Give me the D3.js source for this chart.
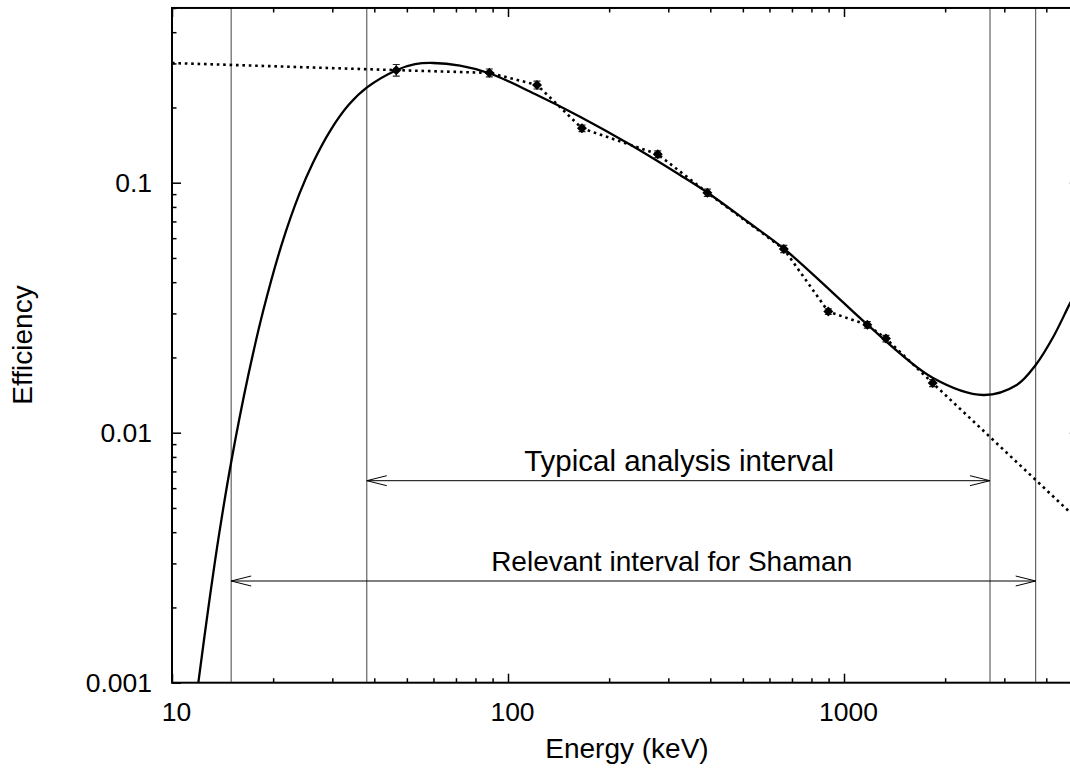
<!DOCTYPE html>
<html>
<head>
<meta charset="utf-8">
<script src="https://cdn.jsdelivr.net/npm/d3@7"></script>
<style>
  body { margin: 0; background: #fff; }
  svg { display: block; font-family: "Liberation Sans", Arial, sans-serif; }
  .tick text { font-size: 26.5px; fill: #000; }
  .tick line { stroke: #000; stroke-width: 1.5; }
</style>
</head>
<body>
<svg id="chart" width="1070" height="772"></svg>
<script>
// measured calibration points (energy in keV, efficiency)
const pointEnergy = [46.5, 88, 122, 166, 279, 392, 662, 898, 1173, 1333, 1836];
const pointEff = [0.282, 0.275, 0.246, 0.165, 0.130, 0.0912, 0.0543, 0.0305, 0.0270, 0.0238, 0.0158];
const pointErr = [0.015, 0.010, 0.009, 0.005, 0.004, 0.003, 0.0018, 0.0008, 0.0008, 0.0007, 0.0005];

// dotted line runs through the points, ends
const dottedStart = [10, 0.301];
const dottedEnd = [5000, 0.00445];

// fitted efficiency curve (solid)
const fitEnergy = [11.58, 11.97, 12.77, 13.73, 14.98, 16.87, 18.69, 21.21, 23.92, 26.34, 29.53, 33.57, 38.14, 46.73, 52.88, 59.83, 71.97, 88.4, 120.3, 163.8, 230.7, 325, 393, 513, 664, 908, 1176, 1841, 2598, 3266, 3720, 4198, 4706, 5000];
const fitEff = [0.00071, 0.000994, 0.001904, 0.003733, 0.00755, 0.0170, 0.0308, 0.05665, 0.08995, 0.1210, 0.1609, 0.2048, 0.2410, 0.2824, 0.2979, 0.3012, 0.2938, 0.2734, 0.2263, 0.1837, 0.1422, 0.1074, 0.0912, 0.0703, 0.0543, 0.0372, 0.0270, 0.01655, 0.01415, 0.01552, 0.01866, 0.0242, 0.0329, 0.0382];

// intervals: [low, high] in keV
const intervalNames = ["Typical analysis interval", "Relevant interval for Shaman"];
const intervalLow = [38, 15];
const intervalHigh = [2720, 3720];
const intervalLabelAt = [323, 307];

// ticks
const xMajor = [10, 100, 1000];
const xMinor = [20, 30, 40, 50, 60, 70, 80, 90, 200, 300, 400, 500, 600, 700, 800, 900, 2000, 3000, 4000, 5000];
const yMajor = [0.001, 0.01, 0.1];
const yMinor = [0.002, 0.003, 0.004, 0.005, 0.006, 0.007, 0.008, 0.009, 0.02, 0.03, 0.04, 0.05, 0.06, 0.07, 0.08, 0.09, 0.2, 0.3, 0.4, 0.5];

const svg = d3.select("#chart");
const plotLeft = 172, plotBottom = 682.7, decadeX = 336, decadeY = 250;
const plotRight = plotLeft + decadeX * Math.log10(500);
const plotTop = plotBottom - decadeY * Math.log10(500);

const x = d3.scaleLog().domain([10, 5000]).range([plotLeft, plotRight]);
const y = d3.scaleLog().domain([0.001, 0.5]).range([plotBottom, plotTop]);

svg.append("defs").append("clipPath").attr("id", "clip")
  .append("rect").attr("x", plotLeft).attr("y", plotTop)
  .attr("width", plotRight - plotLeft).attr("height", plotBottom - plotTop);

const plot = svg.append("g").attr("clip-path", "url(#clip)");

//vertical interval lines
const bounds = intervalLow.concat(intervalHigh);
plot.selectAll(".vline").data(bounds).enter().append("line")
  .attr("class", "vline")
  .attr("x1", d => x(d)).attr("x2", d => x(d))
  .attr("y1", plotTop).attr("y2", plotBottom)
  .attr("stroke", "#444").attr("stroke-width", 1);

//double arrows with labels
const arrowY = [480.7, 581];
const labelY = [471, 570.5];
const labelSize = [29.5, 28];
intervalNames.forEach((name, i) => {
  const x0 = x(intervalLow[i]), x1 = x(intervalHigh[i]), yy = arrowY[i];
  plot.append("line").attr("x1", x0).attr("x2", x1).attr("y1", yy).attr("y2", yy)
    .attr("stroke", "#000").attr("stroke-width", 1);
  plot.append("path")
    .attr("d", `M${x0 + 20},${yy - 5}L${x0},${yy}L${x0 + 20},${yy + 5}M${x1 - 20},${yy - 5}L${x1},${yy}L${x1 - 20},${yy + 5}`)
    .attr("fill", "none").attr("stroke", "#000").attr("stroke-width", 1);
  svg.append("text").attr("x", x(intervalLabelAt[i])).attr("y", labelY[i])
    .attr("text-anchor", "middle").attr("font-size", labelSize[i]).text(name);
});

//dotted line through points
const dottedData = [dottedStart].concat(pointEnergy.map((e, i) => [e, pointEff[i]]), [dottedEnd]);
plot.append("path")
  .datum(dottedData)
  .attr("d", d3.line().x(d => x(d[0])).y(d => y(d[1])))
  .attr("fill", "none").attr("stroke", "#000").attr("stroke-width", 2.6)
  .attr("stroke-dasharray", "2.6,3.8");

//fit curve
plot.append("path")
  .datum(fitEnergy.map((e, i) => [e, fitEff[i]]))
  .attr("d", d3.line().x(d => x(d[0])).y(d => y(d[1])).curve(d3.curveCatmullRom.alpha(0.5)))
  .attr("fill", "none").attr("stroke", "#000").attr("stroke-width", 2.3);

//error bars and points
const pts = plot.selectAll(".pt").data(pointEnergy.map((e, i) => ({ e, v: pointEff[i], err: pointErr[i] })))
  .enter().append("g").attr("class", "pt");
pts.append("path")
  .attr("d", d => {
    const px = x(d.e), y0 = y(d.v - d.err), y1 = y(d.v + d.err);
    return `M${px},${y0}L${px},${y1}M${px - 3.5},${y0}L${px + 3.5},${y0}M${px - 3.5},${y1}L${px + 3.5},${y1}`;
  })
  .attr("stroke", "#222").attr("stroke-width", 1.2).attr("fill", "none");
pts.append("path")
  .attr("d", d3.symbol(d3.symbolSquare, 50))
  .attr("transform", d => `translate(${x(d.e)},${y(d.v)}) rotate(45)`)
  .attr("fill", "#000");

//axes
const gx = svg.append("g").attr("transform", `translate(0,${plotBottom})`)
  .call(d3.axisBottom(x).tickValues(xMajor).tickSize(-9).tickPadding(19).tickFormat(d3.format("d")));
gx.selectAll(".tick text").attr("dx", 4);
svg.append("g").attr("transform", `translate(0,${plotBottom})`)
  .call(d3.axisBottom(x).tickValues(xMinor).tickSize(-4.5).tickFormat(""));
svg.append("g").attr("transform", `translate(0,${plotTop})`)
  .call(d3.axisTop(x).tickValues(xMajor).tickSize(-9).tickFormat(""));
svg.append("g").attr("transform", `translate(0,${plotTop})`)
  .call(d3.axisTop(x).tickValues(xMinor).tickSize(-4.5).tickFormat(""));

svg.append("g").attr("transform", `translate(${plotLeft},0)`)
  .call(d3.axisLeft(y).tickValues(yMajor).tickSize(-9).tickPadding(20).tickFormat(d => String(d)));
svg.append("g").attr("transform", `translate(${plotLeft},0)`)
  .call(d3.axisLeft(y).tickValues(yMinor).tickSize(-4.5).tickFormat(""));
svg.append("g").attr("transform", `translate(${plotRight},0)`)
  .call(d3.axisRight(y).tickValues(yMajor).tickSize(-9).tickFormat(""));
svg.append("g").attr("transform", `translate(${plotRight},0)`)
  .call(d3.axisRight(y).tickValues(yMinor).tickSize(-4.5).tickFormat(""));

svg.selectAll(".domain").remove();

svg.append("rect")
  .attr("x", plotLeft).attr("y", plotTop)
  .attr("width", plotRight - plotLeft).attr("height", plotBottom - plotTop)
  .attr("fill", "none").attr("stroke", "#000").attr("stroke-width", 2);

//axis titles
svg.append("text").attr("x", 627).attr("y", 758).attr("text-anchor", "middle")
  .attr("font-size", 28).text("Energy (keV)");
svg.append("text").attr("transform", "translate(32,345) rotate(-90)").attr("text-anchor", "middle")
  .attr("font-size", 28).text("Efficiency");
</script>
</body>
</html>
